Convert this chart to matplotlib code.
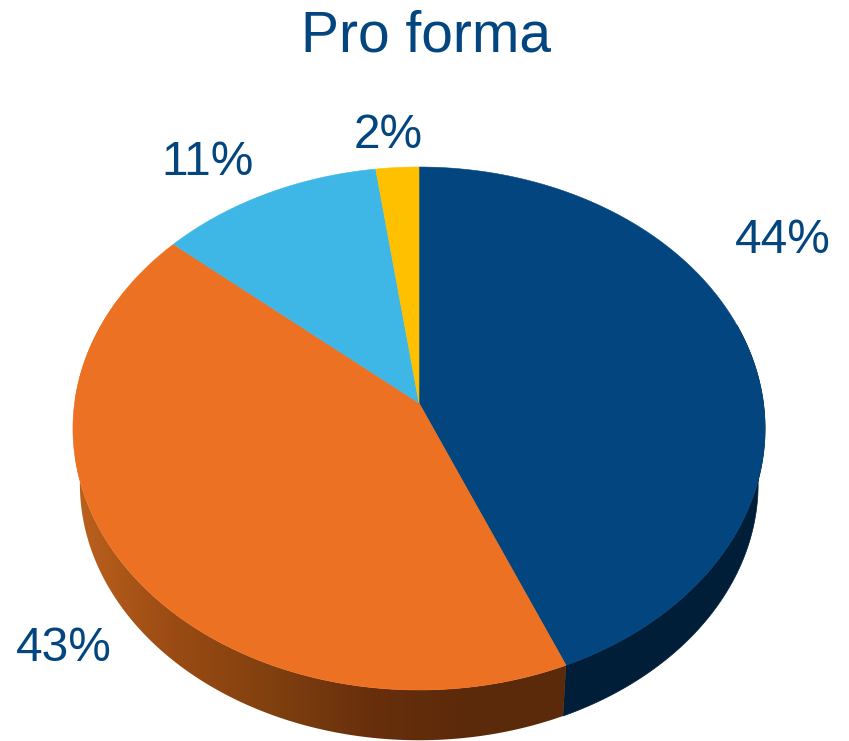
from __future__ import annotations

import matplotlib

matplotlib.use("Agg")

import matplotlib.pyplot as plt
import numpy as np
from matplotlib.colors import LinearSegmentedColormap
from matplotlib.patches import Polygon


TITLE = "Pro forma"
# the printed labels are rounded
SHARES = [43.65, 42.65, 11.5, 2.2]
LABELS = ["44%", "43%", "11%", "2%"]
LABEL_XY = [(782.5, 253), (63.5, 661), (207.5, 175), (388.5, 148)]
COLORS = ["#03467F", "#ED7122", "#3EB7E7", "#FFC000"]
TEXT_COLOR = "#03467F"
BLUE_SIDE = "#001E38"
ORANGE_SIDE = ["#BC611D", "#9A4B14", "#80400F", "#682F0C", "#5B2A0A", "#5B2A0A"]

APEX_X, APEX_Y = 419.0, 403.0
TILT = 0.0975
SCALE_X = 344.4
SCALE_Y = 259.0
BOTTOM_SCALE = 0.98
DEPTH = 56.0


def top_rim(angles: np.ndarray) -> tuple[np.ndarray, np.ndarray]:
    # circle seen in perspective, angles clockwise from 12 o'clock
    u, v = np.sin(angles), np.cos(angles)
    w = 1.0 + TILT * v
    return APEX_X + SCALE_X * u / w, APEX_Y - SCALE_Y * v / w


def bottom_rim(angles: np.ndarray) -> tuple[np.ndarray, np.ndarray]:
    x, y = top_rim(angles)
    return (
        APEX_X + (x - APEX_X) * BOTTOM_SCALE,
        APEX_Y + (y - APEX_Y) * BOTTOM_SCALE + DEPTH,
    )


def side_polygon(start: float, end: float) -> np.ndarray:
    angles = np.linspace(start, end, 200)
    tx, ty = top_rim(angles)
    bx, by = bottom_rim(angles)
    return np.column_stack([np.r_[tx, bx[::-1]], np.r_[ty, by[::-1]]])


def main() -> None:
    fig = plt.figure(figsize=(8.49, 7.41), dpi=100)
    ax = fig.add_axes([0, 0, 1, 1])
    plt.rcParams["font.family"] = ["Liberation Sans", "DejaVu Sans"]

    shares = np.array(SHARES, dtype=float)
    edges = np.r_[0.0, np.cumsum(shares) / shares.sum()] * 2 * np.pi

    # side wall first, the top face covers the part that is not visible
    ax.add_patch(Polygon(side_polygon(np.pi * 0.4, edges[1]), closed=True,
                         facecolor=BLUE_SIDE, edgecolor=BLUE_SIDE, lw=0.5))
    orange_clip = Polygon(side_polygon(edges[1], edges[2]), closed=True,
                          facecolor="none", edgecolor="none")
    ax.add_patch(orange_clip)
    cmap = LinearSegmentedColormap.from_list("orange_side", ORANGE_SIDE)
    gradient = ax.imshow(np.linspace(0, 1, 256).reshape(1, -1), cmap=cmap,
                         extent=(75, 570, 741, 300), aspect="auto", zorder=1)
    gradient.set_clip_path(orange_clip)

    for start, end, color in zip(edges[:-1], edges[1:], COLORS):
        angles = np.linspace(start, end, 300)
        x, y = top_rim(angles)
        ax.fill(np.r_[APEX_X, x], np.r_[APEX_Y, y], facecolor=color,
                edgecolor=color, lw=0.4, zorder=2)

    for text, (x, y) in zip(LABELS, LABEL_XY):
        ax.text(x, y, text, color=TEXT_COLOR, fontsize=34.4, ha="center", va="baseline")
    ax.text(426.5, 51, TITLE, color=TEXT_COLOR, fontsize=41, ha="center", va="baseline")

    ax.set_xlim(0, 849)
    ax.set_ylim(741, 0)
    ax.axis("off")
    fig.savefig("out.png", dpi=100, facecolor="white")
    plt.close(fig)


if __name__ == "__main__":
    main()
